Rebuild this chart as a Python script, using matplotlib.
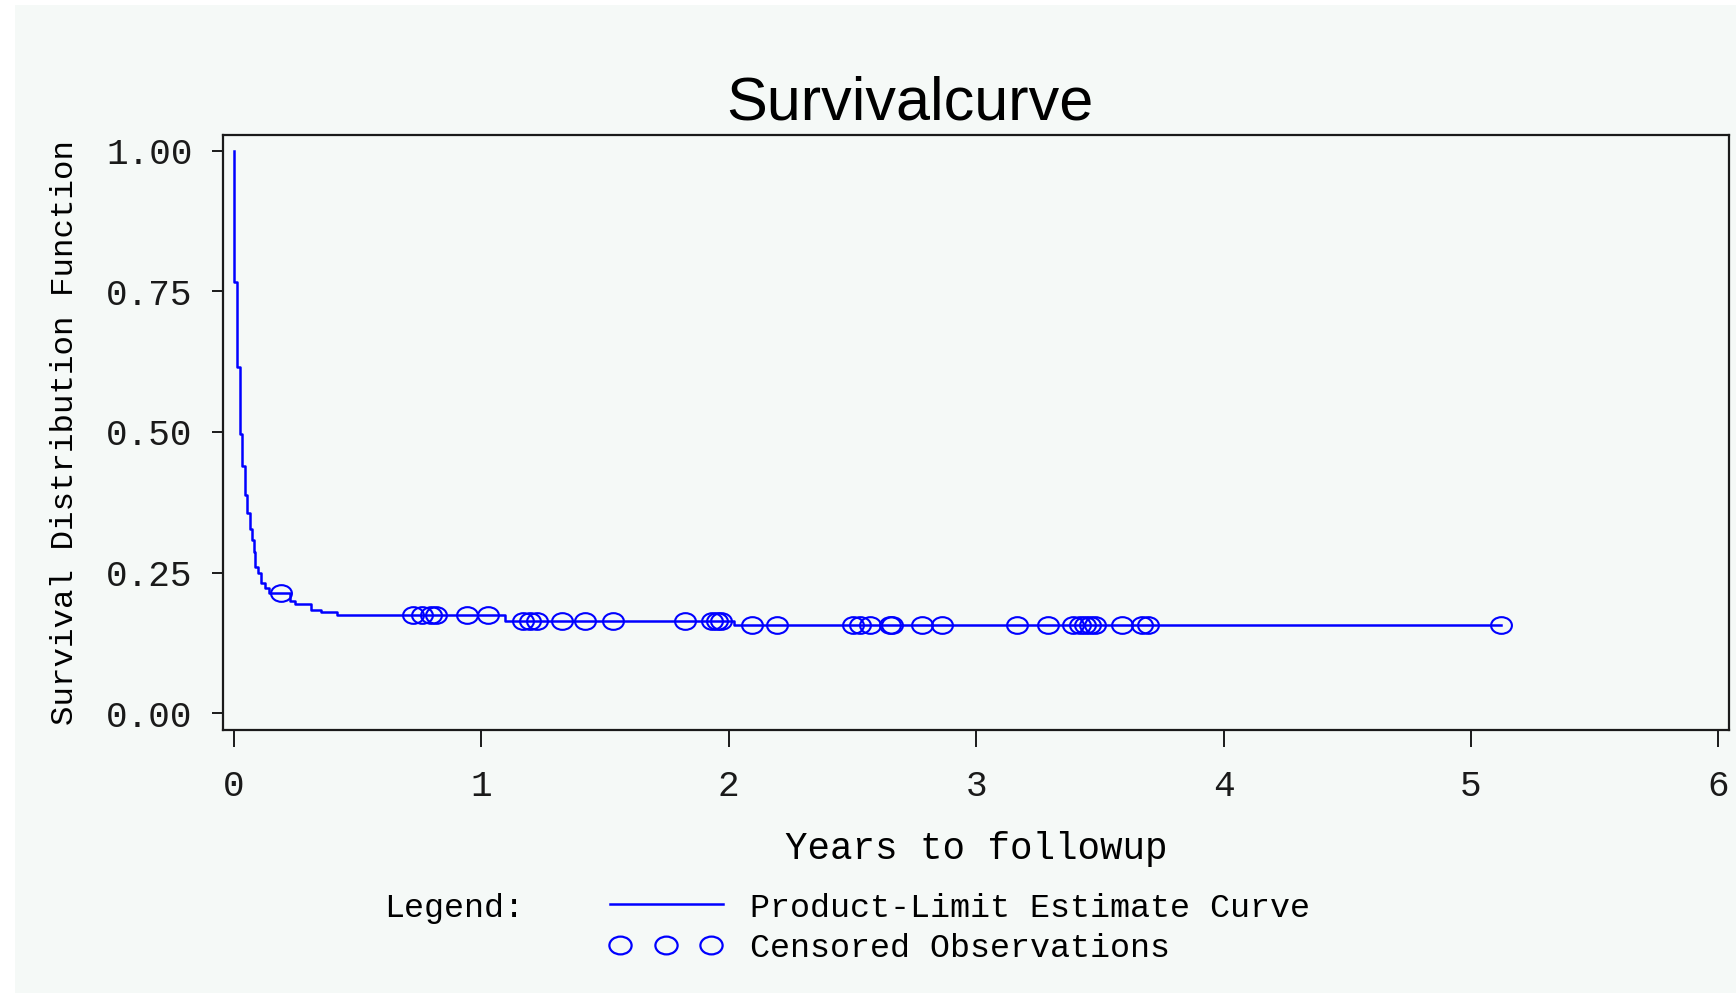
import numpy as np
import matplotlib
matplotlib.use('Agg')
import matplotlib.pyplot as plt
from matplotlib.path import Path
from matplotlib.transforms import Affine2D
from matplotlib.lines import Line2D
from matplotlib.patches import Rectangle

# Kaplan-Meier steps (years, survival after the drop)
event_times = [0.000, 0.011, 0.024, 0.034, 0.043, 0.054, 0.063, 0.073, 0.081, 0.084,
               0.097, 0.110, 0.124, 0.140, 0.226, 0.245, 0.311, 0.352, 0.415, 1.095, 2.020]
surv = [0.767, 0.615, 0.496, 0.439, 0.388, 0.356, 0.327, 0.308, 0.287, 0.259,
        0.250, 0.231, 0.222, 0.214, 0.200, 0.194, 0.183, 0.180, 0.175, 0.163, 0.156]
last_time = 5.122

# censored observations (years)
censored = [0.191, 0.722, 0.758, 0.795, 0.816, 0.940, 1.028, 1.169, 1.196, 1.223,
            1.325, 1.419, 1.531, 1.823, 1.931, 1.951, 1.967, 2.093, 2.194, 2.503,
            2.530, 2.571, 2.652, 2.660, 2.780, 2.860, 3.163, 3.291, 3.392, 3.419,
            3.440, 3.460, 3.480, 3.588, 3.669, 3.696, 5.122]

xticks = [0, 1, 2, 3, 4, 5, 6]
yticks = [0.0, 0.25, 0.5, 0.75, 1.0]
ytick_labels = ['0.00', '0.25', '0.50', '0.75', '1.00']

blue = '#0000ff'
bg = '#f5f9f7'
mono = 'Liberation Mono'

W, H = 1736, 996
fig = plt.figure(figsize=(W / 100, H / 100), dpi=100, facecolor='white')
# panel background (thin white frame on top/left/bottom like the original)
fig.patches.append(Rectangle((15 / W, 3 / H), 1 - 15 / W, (H - 8) / H,
                             transform=fig.transFigure, facecolor=bg,
                             edgecolor='none', zorder=-1))

ax = fig.add_axes([223 / W, (H - 730) / H, 1506 / W, 595 / H])
ax.set_facecolor(bg)

# step curve
t = np.concatenate([[0.0], event_times, [last_time]])
s = np.concatenate([[1.0], surv, [surv[-1]]])
ax.step(t, s, where='post', color=blue, lw=1.8, zorder=3)

# censored marks sit on the curve
ell = Path.unit_circle().transformed(Affine2D().scale(1.0, 0.8))
cens = np.array(censored)
idx = np.searchsorted(t, cens, side='right') - 1
ax.plot(cens, s[idx], ls='none', marker=ell, ms=15, mfc='none', mec=blue,
        mew=1.5, zorder=4)

ax.set_xlim(-0.0445, 6.043)
ax.set_ylim(-0.030, 1.028)
ax.set_xticks(xticks)
ax.set_xticklabels([str(v) for v in xticks], fontfamily=mono, fontsize=26)
ax.set_yticks(yticks)
ax.set_yticklabels(ytick_labels, fontfamily=mono, fontsize=26)
ax.tick_params(axis='x', direction='out', length=12, width=1.4, pad=16, colors='#1a1a1a')
ax.tick_params(axis='y', direction='out', length=8, width=1.4, pad=14, colors='#1a1a1a')
for sp in ax.spines.values():
    sp.set_linewidth(1.6)
    sp.set_color('#1a1a1a')

ax.set_xlabel('Years to followup', fontfamily=mono, fontsize=27)
ax.xaxis.set_label_coords(0.5, (730 - 849) / 595)
ax.xaxis.label.set_va('center')
ax.set_ylabel('Survival Distribution Function', fontfamily=mono, fontsize=23.4)
ax.yaxis.set_label_coords((65 - 223) / 1506, 0.5)
ax.yaxis.label.set_va('center')

fig.text(909.5 / W, (H - 119) / H, 'Survivalcurve', ha='center', va='baseline',
         fontfamily='Liberation Sans', fontsize=44)

# legend block, laid out like the SAS one
fs_leg = 24
row1, row2 = 908, 948
fig.text(384 / W, (H - row1) / H, 'Legend:', ha='left', va='center',
         fontfamily=mono, fontsize=fs_leg)
fig.text(750 / W, (H - row1) / H, 'Product-Limit Estimate Curve', ha='left',
         va='center', fontfamily=mono, fontsize=fs_leg)
fig.text(750 / W, (H - row2) / H, 'Censored Observations', ha='left',
         va='center', fontfamily=mono, fontsize=fs_leg)
hx0, hx1 = 610 / W, 723 / W
fig.add_artist(Line2D([hx0, hx1], [(H - row1 + 4) / H] * 2, color=blue, lw=1.8,
                      transform=fig.transFigure))
mx = np.linspace(620 / W, 711 / W, 3)
fig.add_artist(Line2D(mx, [(H - row2 + 3) / H] * 3, ls='none', marker=ell, ms=16,
                      mfc='none', mec=blue, mew=1.6, transform=fig.transFigure))

fig.savefig('out.png', dpi=100, facecolor=fig.get_facecolor())
